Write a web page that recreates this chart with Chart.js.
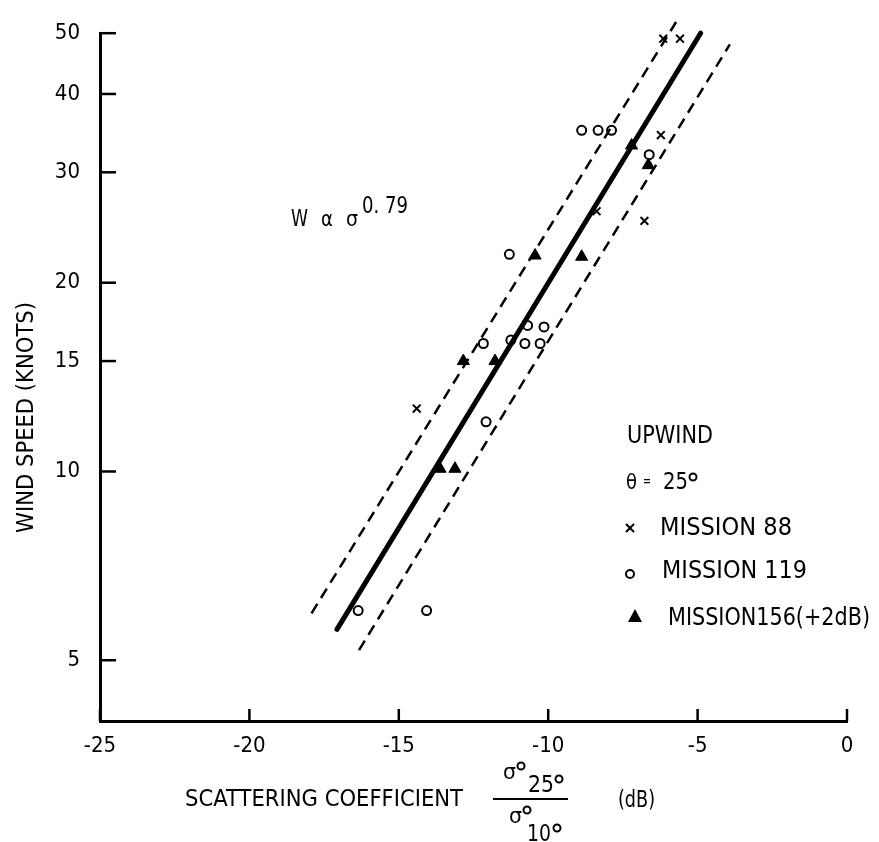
<!DOCTYPE html>
<html>
<head>
<meta charset="utf-8">
<script src="https://cdn.jsdelivr.net/npm/chart.js@4.4.1/dist/chart.umd.min.js"></script>
<style>
  html, body { margin: 0; padding: 0; background: #fff; }
  #wrap { width: 879px; height: 842px; }
</style>
</head>
<body>
<div id="wrap"><canvas id="windChart" width="879" height="842"></canvas></div>
<script>
const FONT = "'DejaVu Sans', 'Liberation Sans', sans-serif";
const TICK_FONT = "'DejaVu Sans Condensed', 'DejaVu Sans', sans-serif";

// axis ticks
const xTicks = [-25, -20, -15, -10, -5, 0];
const yTicks = [5, 10, 15, 20, 30, 40, 50];

// Mission 88 (x)
const m88Sigma = [-6.15, -5.59, -6.23, -8.38, -6.78, -14.40];
const m88Wind = [49, 49, 34.4, 26.0, 25.1, 12.6];

// Mission 119 (o)
const m119Sigma = [-8.88, -8.33, -7.88, -6.62, -11.30, -10.69, -10.14, -12.17, -11.25, -10.78, -10.27, -12.08, -16.36, -14.07];
const m119Wind = [35, 35, 35, 32, 22.2, 17.1, 17.0, 16.0, 16.2, 16.0, 16.0, 12.0, 6.0, 6.0];

// Mission 156, shifted +2 dB (filled triangles)
const m156Sigma = [-7.21, -6.65, -10.44, -8.88, -12.84, -11.78, -13.62, -13.12];
const m156Wind = [33.1, 30.8, 22.1, 22.0, 15.0, 15.0, 10.1, 10.1];

// fitted line W ~ sigma^0.79 and its dashed bounds
const fitSigma = [-17.07, -4.90];
const fitWind = [5.6, 50];
const upperSigma = [-17.92, -5.72];
const upperWind = [5.94, 52.1];
const lowerSigma = [-16.33, -3.92];
const lowerWind = [5.19, 48.0];

const pts = (xs, ys) => xs.map((x, i) => ({ x, y: ys[i] }));

Chart.defaults.font.family = TICK_FONT;
Chart.defaults.color = '#000';

// draw text squeezed or spaced out to a given width
function fit(ctx, str, x, y, size, width) {
  ctx.font = size + 'px ' + FONT;
  ctx.textAlign = 'left';
  ctx.textBaseline = 'alphabetic';
  ctx.letterSpacing = '0px';
  const w = ctx.measureText(str).width;
  ctx.save();
  ctx.translate(x, y);
  if (w > width) {
    ctx.scale(width / w, 1);
  } else if (str.length > 1) {
    ctx.letterSpacing = ((width - w) / (str.length - 1)) + 'px';
  }
  ctx.fillText(str, 0, 0);
  ctx.restore();
  ctx.letterSpacing = '0px';
}

function deg(ctx, x, y, r = 3.5) {
  ctx.beginPath();
  ctx.arc(x, y, r, 0, Math.PI * 2);
  ctx.stroke();
}

// tick marks point into the plot
const inwardTicks = {
  id: 'inwardTicks',
  afterDraw(chart) {
    const { ctx, chartArea, scales: { x, y } } = chart;
    ctx.save();
    ctx.strokeStyle = '#000';
    ctx.lineWidth = 2.5;
    xTicks.forEach(v => {
      const px = x.getPixelForValue(v);
      ctx.beginPath();
      ctx.moveTo(px, chartArea.bottom);
      ctx.lineTo(px, chartArea.bottom - 12);
      ctx.stroke();
    });
    yTicks.forEach(v => {
      const py = y.getPixelForValue(v);
      ctx.beginPath();
      ctx.moveTo(chartArea.left, py);
      ctx.lineTo(chartArea.left + 16, py);
      ctx.stroke();
    });
    ctx.restore();
  }
};

// titles, formula and key
const annotations = {
  id: 'annotations',
  afterDraw(chart) {
    const ctx = chart.ctx;
    ctx.save();
    ctx.fillStyle = '#000';
    ctx.strokeStyle = '#000';
    ctx.lineWidth = 2;

    // y title
    ctx.save();
    ctx.translate(33, 533);
    ctx.rotate(-Math.PI / 2);
    fit(ctx, 'WIND SPEED (KNOTS)', 0, 0, 23, 231);
    ctx.restore();

    // x title with the sigma ratio
    fit(ctx, 'SCATTERING COEFFICIENT', 185, 806, 23, 278);
    fit(ctx, 'σ', 503, 779, 22, 13);
    deg(ctx, 521, 766);
    fit(ctx, '25', 528, 792, 23, 26);
    deg(ctx, 559, 779);
    ctx.beginPath();
    ctx.moveTo(493, 799);
    ctx.lineTo(568, 799);
    ctx.stroke();
    fit(ctx, 'σ', 509, 823, 22, 13);
    deg(ctx, 527, 810);
    fit(ctx, '10', 527, 841, 23, 24);
    deg(ctx, 557, 828);
    fit(ctx, '(dB)', 618, 807, 23, 37);

    // formula
    fit(ctx, 'W', 291, 226, 23, 17);
    fit(ctx, 'α', 321, 226, 22, 12);
    fit(ctx, 'σ', 346, 226, 22, 12);
    fit(ctx, '0. 79', 362, 213, 23, 46);

    // key
    fit(ctx, 'UPWIND', 627, 443, 24, 86);
    fit(ctx, 'θ', 626, 489, 22, 11);
    fit(ctx, '=', 643, 486, 16, 8);
    fit(ctx, '25', 663, 489, 23, 25);
    deg(ctx, 693, 477);
    ctx.beginPath();
    ctx.moveTo(626, 524); ctx.lineTo(634, 532);
    ctx.moveTo(634, 524); ctx.lineTo(626, 532);
    ctx.stroke();
    fit(ctx, 'MISSION 88', 660, 535, 24, 132);
    deg(ctx, 630, 574, 4);
    fit(ctx, 'MISSION 119', 662, 578, 24, 145);
    ctx.beginPath();
    ctx.moveTo(635, 609); ctx.lineTo(642, 622); ctx.lineTo(628, 622);
    ctx.closePath();
    ctx.fill();
    fit(ctx, 'MISSION156(+2dB)', 668, 625, 24, 202);

    ctx.restore();
  }
};

new Chart(document.getElementById('windChart'), {
  type: 'scatter',
  data: {
    datasets: [
      {
        label: 'MISSION 88',
        data: pts(m88Sigma, m88Wind),
        pointStyle: 'crossRot',
        pointRadius: 5.5,
        borderColor: '#000',
        borderWidth: 2
      },
      {
        label: 'MISSION 119',
        data: pts(m119Sigma, m119Wind),
        pointStyle: 'circle',
        pointRadius: 4.5,
        borderColor: '#000',
        backgroundColor: 'rgba(0,0,0,0)',
        borderWidth: 2
      },
      {
        label: 'MISSION156(+2dB)',
        data: pts(m156Sigma, m156Wind),
        pointStyle: 'triangle',
        pointRadius: 7,
        borderColor: '#000',
        backgroundColor: '#000',
        borderWidth: 1
      },
      {
        label: 'fit',
        data: pts(fitSigma, fitWind),
        showLine: true,
        pointRadius: 0,
        borderColor: '#000',
        borderWidth: 5,
        borderCapStyle: 'round',
        clip: false
      },
      {
        label: 'upper',
        data: pts(upperSigma, upperWind),
        showLine: true,
        pointRadius: 0,
        borderColor: '#000',
        borderWidth: 2.5,
        borderDash: [11, 7],
        clip: false
      },
      {
        label: 'lower',
        data: pts(lowerSigma, lowerWind),
        showLine: true,
        pointRadius: 0,
        borderColor: '#000',
        borderWidth: 2.5,
        borderDash: [11, 7],
        clip: false
      }
    ]
  },
  options: {
    responsive: false,
    animation: false,
    devicePixelRatio: 1,
    layout: { padding: { left: 0, right: 32, top: 21, bottom: 0 } },
    plugins: {
      legend: { display: false },
      tooltip: { enabled: false }
    },
    scales: {
      x: {
        type: 'linear',
        min: -25,
        max: 0,
        afterBuildTicks: s => { s.ticks = xTicks.map(v => ({ value: v })); },
        afterFit: s => { s.height = 121; },
        grid: { display: false, drawTicks: false },
        border: { display: true, color: '#000', width: 3 },
        ticks: { color: '#000', font: { size: 22 }, padding: 12, maxRotation: 0, callback: v => String(v) }
      },
      y: {
        type: 'logarithmic',
        min: 4,
        max: 50,
        afterBuildTicks: s => { s.ticks = yTicks.map(v => ({ value: v })); },
        afterFit: s => { s.width = 100; },
        grid: { display: false, drawTicks: false },
        border: { display: true, color: '#000', width: 3 },
        ticks: { color: '#000', font: { size: 22 }, padding: 20, callback: v => String(v) }
      }
    }
  },
  plugins: [inwardTicks, annotations]
});
</script>
</body>
</html>
